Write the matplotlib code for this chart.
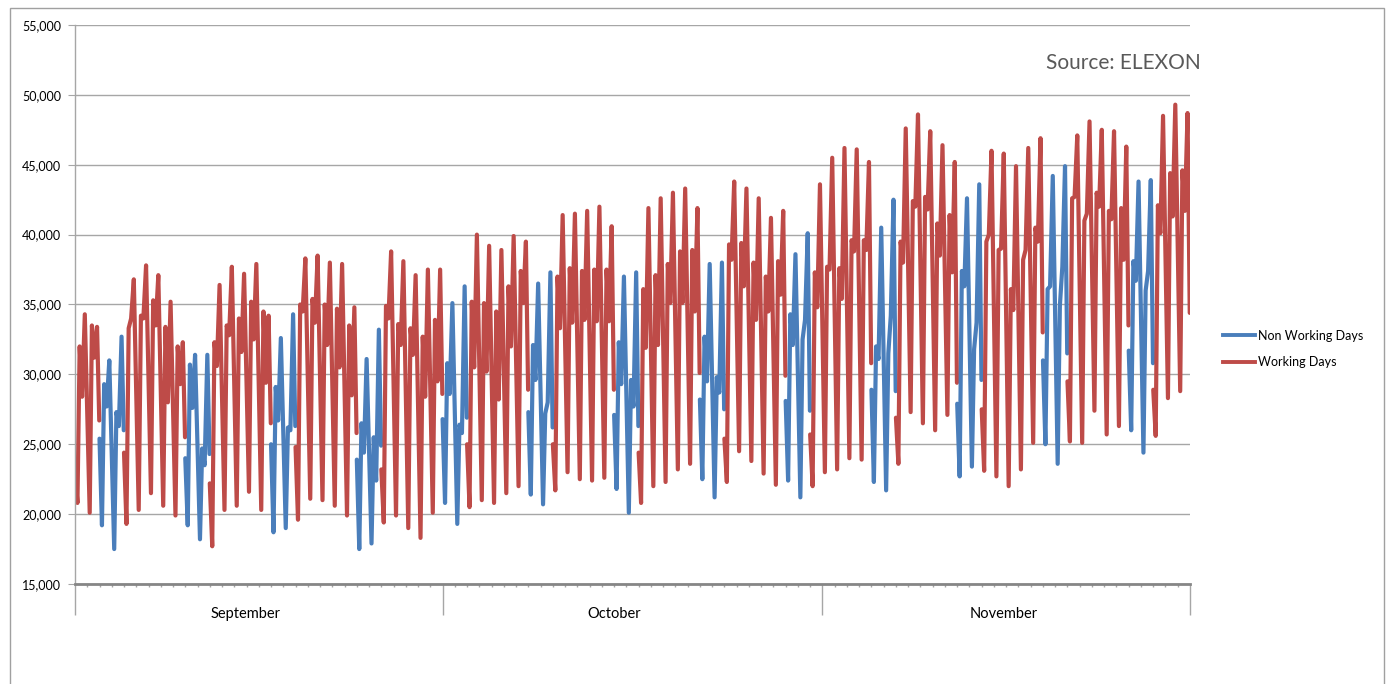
import matplotlib.pyplot as plt
import matplotlib.patches as patches
from matplotlib.lines import Line2D
from matplotlib.ticker import FuncFormatter
import numpy as np
import pandas as pd

plt.rcParams['font.family'] = ['Lato', 'DejaVu Sans']

# Half-hourly demand (MW), 1 Sep - 30 Nov 2011:
# overnight low, morning level, afternoon level, evening peak
trough = [20800, 20100, 19200, 17500, 19300, 20300, 21500, 20600, 19900, 19200,
          18200, 17700, 20300, 20600, 21600, 20300, 18700, 19000, 19600, 21100,
          21000, 20600, 19900, 17500, 17900, 19400, 19900, 19000, 18300, 20100,
          20800, 19300, 20500, 21000, 20800, 21500, 22000, 21400, 20700, 21700,
          23000, 22500, 22400, 22600, 21800, 20100, 20800, 22000, 22300, 23200,
          23600, 22500, 21200, 22300, 24500, 23800, 22900, 22100, 22400, 21200,
          22000, 23000, 23200, 24000, 23900, 22300, 21700, 23600, 27300, 26500,
          26000, 27100, 22700, 23400, 23100, 22700, 22000, 23200, 25100, 25000,
          23600, 25200, 25100, 27400, 25700, 26300, 26000, 24400, 25600, 28300,
          28800]
morning = [32000, 33500, 29300, 27300, 33300, 34200, 35300, 33400, 32000, 30700,
           24700, 32300, 33500, 34000, 35200, 34500, 29100, 26200, 35000, 35400,
           35000, 34700, 33500, 26500, 25500, 34900, 33600, 33300, 32700, 33900,
           30800, 26400, 35200, 35100, 34500, 36300, 37400, 32100, 27200, 37000,
           37600, 37400, 37500, 37500, 32300, 29600, 36100, 37100, 37900, 38800,
           38900, 32700, 29800, 39300, 39400, 38000, 37000, 38100, 34300, 32500,
           37300, 37700, 37600, 39600, 39600, 32000, 31500, 39500, 42400, 42700,
           40800, 41400, 37400, 31800, 39500, 38900, 36100, 38200, 40500, 36100,
           34900, 42600, 41000, 43000, 41700, 41900, 38100, 36000, 42100, 44400,
           44600]
afternoon = [28400, 31200, 27700, 26300, 34000, 34000, 33500, 28000, 29300, 27600,
             23500, 30600, 32800, 31600, 32500, 29400, 26700, 26000, 34500, 33700,
             32100, 30500, 28500, 24400, 22400, 34000, 32100, 31400, 28400, 29500,
             28600, 25800, 30500, 30200, 28200, 32000, 35100, 29600, 28000, 33300,
             33700, 33900, 33800, 33800, 29300, 27700, 31900, 32100, 35100, 35100,
             34500, 29500, 28700, 38200, 36300, 33900, 34500, 35700, 32100, 33900,
             34800, 37500, 35400, 38800, 38900, 31100, 34200, 38000, 42000, 41800,
             38500, 37300, 36300, 33700, 40000, 39000, 34600, 38900, 39500, 36300,
             37700, 42700, 41500, 42000, 41100, 38200, 36700, 37400, 40100, 41300,
             41700]
peak = [34300, 33400, 31000, 32700, 36800, 37800, 37100, 35200, 32300, 31400,
        31400, 36400, 37700, 37200, 37900, 34200, 32600, 34300, 38300, 38500,
        38000, 37900, 34800, 31100, 33200, 38800, 38100, 37100, 37500, 37500,
        35100, 36300, 40000, 39200, 38900, 39900, 39500, 36500, 37300, 41400,
        41500, 41700, 42000, 40600, 37000, 37300, 41900, 42600, 43000, 43300,
        41900, 37900, 38000, 43800, 43300, 42600, 41200, 41700, 38600, 40100,
        43600, 45500, 46200, 46100, 45200, 40500, 42500, 47600, 48600, 47400,
        46400, 45200, 42600, 43600, 46000, 45800, 44900, 46200, 46900, 44200,
        44900, 47100, 48100, 47500, 47400, 46300, 43800, 43900, 48500, 49300,
        48700]

# first reading (00:00 on 1 Sep) and last reading (23:30 on 30 Nov)
first_value = 23200
last_value = 34400

# readings either side of each switch between working and non working days
switch_end = [26700, 26000, 25500, 24300, 26500, 26300, 25800, 24900, 28600,
              26900, 28900, 26200, 28900, 26300, 30100, 27500, 29900, 27400,
              30800, 28800, 29400, 29600, 33000, 31500, 33500, 30800]
switch_start = [25400, 24400, 24000, 22200, 25000, 24800, 23900, 23200, 26800,
                25000, 27300, 25000, 27100, 24400, 28200, 25400, 28100, 25700,
                28900, 26900, 27900, 27500, 31000, 29500, 31700, 28900]

months = ['September', 'October', 'November']
series_names = ['Non Working Days', 'Working Days']

days = pd.date_range('2011-09-01', '2011-11-30', freq='D')
non_working = np.array(days.dayofweek >= 5)  # no bank holidays in this period

blue = '#4A7EBB'
red = '#BE4B48'
grid_grey = '#A6A6A6'

# split the days into runs of the same day type
runs = []
start = 0
for i in range(1, len(days) + 1):
    if i == len(days) or non_working[i] != non_working[start]:
        runs.append((start, i))
        start = i

offsets = [0.2, 0.38, 0.58, 0.8]  # time of day of the four daily readings

fig, ax = plt.subplots(figsize=(13.91, 6.84), dpi=100)
fig.subplots_adjust(left=75 / 1391, right=1190 / 1391, top=1 - 25 / 684, bottom=1 - 584 / 684)

for k, (a, b) in enumerate(runs):
    xs = [a]
    ys = [first_value if k == 0 else switch_start[k - 1]]
    for d in range(a, b):
        for off, v in zip(offsets, (trough[d], morning[d], afternoon[d], peak[d])):
            xs.append(d + off)
            ys.append(v)
    xs.append(b - 1 / 48)
    ys.append(last_value if k == len(runs) - 1 else switch_end[k])
    color = blue if non_working[a] else red
    ax.plot(xs, ys, color=color, lw=3.0, solid_joinstyle='round', solid_capstyle='round')

# y axis
ax.set_ylim(15000, 55000)
ax.set_yticks(range(15000, 55001, 5000))
ax.yaxis.set_major_formatter(FuncFormatter(lambda v, p: f'{v:,.0f}'))
ax.grid(axis='y', color=grid_grey, lw=1)
ax.set_axisbelow(True)
ax.tick_params(axis='y', length=5, color=grid_grey, labelsize=9, pad=5, labelcolor='#000000')

# x axis: one small tick per day, long separators between months
month_edges = [0, 30, 61, 91]
ax.set_xlim(0, 91)
ax.set_xticks(month_edges)
ax.set_xticks(np.arange(92), minor=True)
ax.tick_params(axis='x', which='major', length=22, width=1, color=grid_grey, labelbottom=False)
ax.tick_params(axis='x', which='minor', length=2.5, width=1, color=grid_grey)
month_label_x = [13.9, 44.0, 75.8]
for name, mx in zip(months, month_label_x):
    ax.text(mx, -0.054, name, transform=ax.get_xaxis_transform(),
            ha='center', va='center', fontsize=10.5)

for side in ['top', 'right']:
    ax.spines[side].set_visible(False)
ax.spines['left'].set_color(grid_grey)
ax.spines['left'].set_linewidth(1)
ax.spines['bottom'].set_color('#868686')
ax.spines['bottom'].set_linewidth(2)

# legend
handles = [Line2D([], [], color=blue, lw=2.8), Line2D([], [], color=red, lw=2.8)]
fig.legend(handles, series_names, loc='center left', bbox_to_anchor=(1212 / 1391, 1 - 349 / 684),
           frameon=False, fontsize=9, handlelength=2.5, handletextpad=0.3, labelspacing=1.15)

fig.text(1201 / 1391, 1 - 63 / 684, 'Source: ELEXON', ha='right', va='center',
         fontsize=15, color='#595959')

# chart border
fig.patches.append(patches.Rectangle((10 / 1391, -0.05), 1374 / 1391, 1.05 - 8 / 684,
                                     transform=fig.transFigure, fill=False,
                                     edgecolor='#A0A0A0', lw=1))

fig.savefig('out.png', dpi=100)
